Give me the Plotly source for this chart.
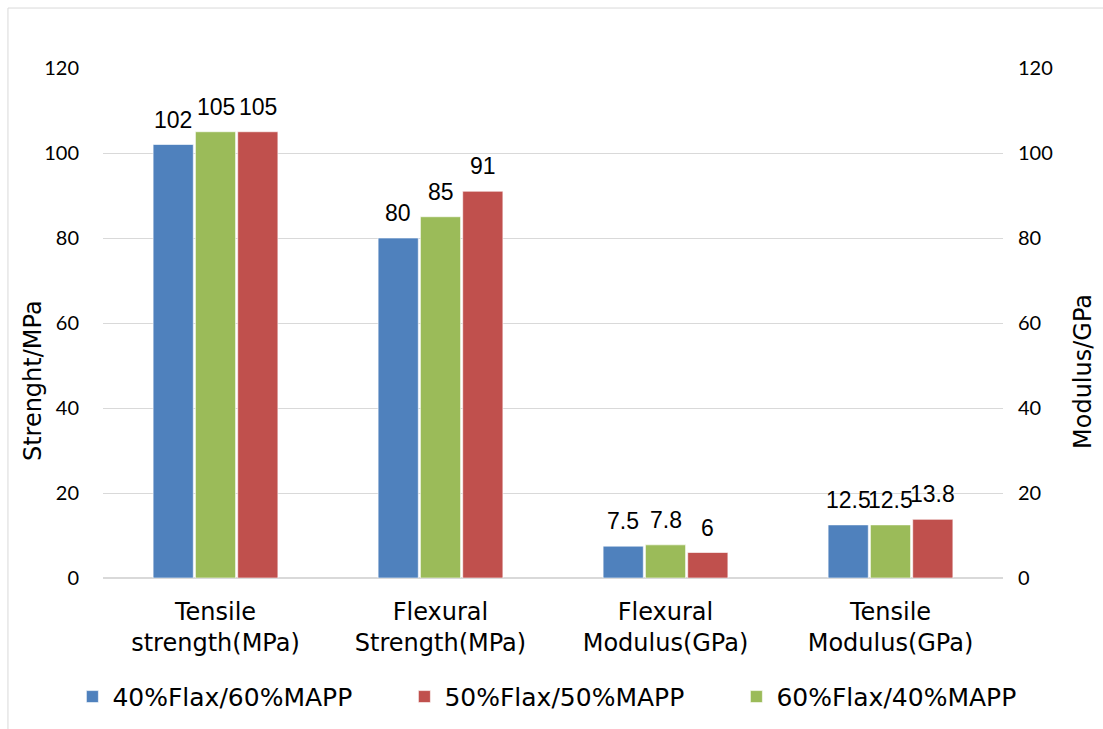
import plotly.graph_objects as go

categories = ["Tensile<br>strength(MPa)", "Flexural<br>Strength(MPa)", "Flexural<br>Modulus(GPa)", "Tensile<br>Modulus(GPa)"]
s40 = [102, 80, 7.5, 12.5]   # 40%Flax/60%MAPP
s60 = [105, 85, 7.8, 12.5]   # 60%Flax/40%MAPP
s50 = [105, 91, 6, 13.8]     # 50%Flax/50%MAPP
tick_vals = [0, 20, 40, 60, 80, 100, 120]

series = [
    ("40%Flax/60%MAPP", s40, "#4F81BD", 1),
    ("60%Flax/40%MAPP", s60, "#9BBB59", 3),
    ("50%Flax/50%MAPP", s50, "#C0504D", 2),
]

BARGAP = 0.436
slot = (1 - BARGAP) / len(series)

fig = go.Figure()
annotations = []
for k, (name, vals, color, rank) in enumerate(series):
    fig.add_trace(go.Bar(
        x=categories, y=vals, name=name, legendrank=rank,
        marker=dict(color=color, line=dict(color="rgba(255,255,255,0.6)", width=1)),
    ))
    off = (k - (len(series) - 1) / 2) * slot
    for i, v in enumerate(vals):
        annotations.append(dict(
            x=i + off, y=v, xref="x", yref="y", text=f"{v:g}", showarrow=False,
            yanchor="bottom", yshift=10,
            font=dict(family="Liberation Sans, Arial", size=23, color="#000000")))

# invisible trace to drive the secondary axis
fig.add_trace(go.Scatter(x=categories, y=[None]*4, yaxis="y2", showlegend=False, hoverinfo="skip"))

title_font = dict(family="DejaVu Sans", size=24, color="#000000")
annotations += [
    dict(x=-0.0778, y=0.388, xref="paper", yref="paper", text="Strenght/MPa", textangle=-90,
         showarrow=False, font=title_font, xanchor="center", yanchor="middle"),
    dict(x=1.0889, y=0.404, xref="paper", yref="paper", text="Modulus/GPa", textangle=-90,
         showarrow=False, font=title_font, xanchor="center", yanchor="middle"),
]

fig.update_layout(
    width=1103, height=729,
    paper_bgcolor="white", plot_bgcolor="white",
    margin=dict(l=103, r=100, t=68, b=151, autoexpand=False),
    barmode="group", bargap=BARGAP, bargroupgap=0.05,
    font=dict(family="Liberation Sans, Arial", color="#000000"),
    xaxis=dict(tickfont=dict(family="DejaVu Sans", size=24), showgrid=False, automargin=False,
               showline=True, linecolor="#d9d9d9", ticks="", ticklabelstandoff=12),
    yaxis=dict(range=[0, 120], tickvals=tick_vals, showgrid=True, gridcolor="#d9d9d9",
               gridwidth=1, zeroline=True, zerolinecolor="#d9d9d9", automargin=False,
               tickfont=dict(family="Lato", size=20), ticklabelstandoff=23),
    yaxis2=dict(range=[0, 120], tickvals=tick_vals, overlaying="y", side="right", showgrid=False,
                zeroline=False, automargin=False, tickfont=dict(family="Lato", size=20),
                ticklabelstandoff=14),
    legend=dict(orientation="h", x=-0.034, xanchor="left", y=-0.233, yanchor="middle",
                font=dict(family="DejaVu Sans", size=25), traceorder="normal",
                bgcolor="rgba(0,0,0,0)",
                entrywidth=287, entrywidthmode="pixels", itemwidth=30),
    annotations=annotations,
    shapes=[dict(type="rect", xref="paper", yref="paper", x0=-0.1056, x1=1.2, y0=-0.5, y1=1.1176,
                 line=dict(color="#d9d9d9", width=1), fillcolor="rgba(0,0,0,0)", layer="below")],
)
fig.write_html("out.html", config={"displayModeBar": False},
               post_script="document.body.style.margin='0';document.body.style.overflow='hidden';")
